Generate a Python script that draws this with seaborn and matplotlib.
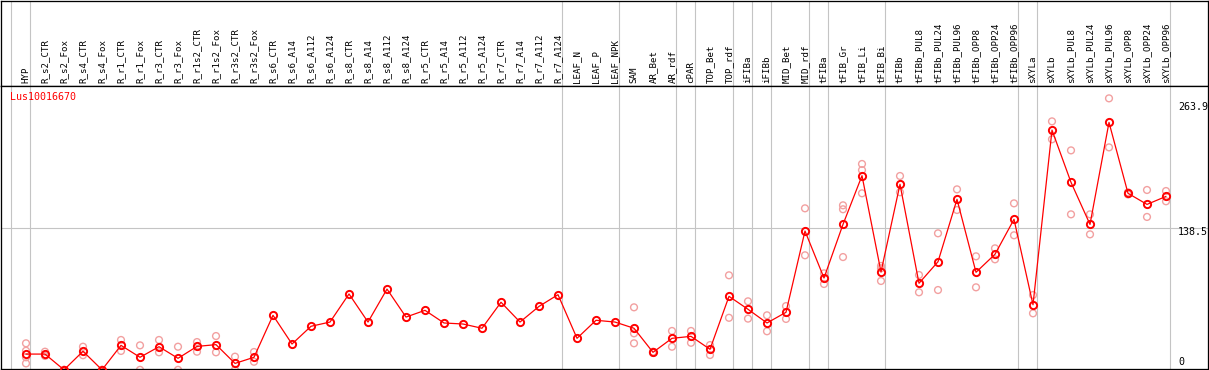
import matplotlib
matplotlib.use('Agg')
import matplotlib.pyplot as plt
import matplotlib.transforms as mtransforms
import seaborn as sns

# --- data ---
gene = 'Lus10016670'

samples = ['HYP', 'R_s2_CTR', 'R_s2_Fox', 'R_s4_CTR', 'R_s4_Fox', 'R_r1_CTR', 'R_r1_Fox',
           'R_r3_CTR', 'R_r3_Fox', 'R_r1s2_CTR', 'R_r1s2_Fox', 'R_r3s2_CTR', 'R_r3s2_Fox',
           'R_s6_CTR', 'R_s6_A14', 'R_s6_A112', 'R_s6_A124', 'R_s8_CTR', 'R_s8_A14',
           'R_s8_A112', 'R_s8_A124', 'R_r5_CTR', 'R_r5_A14', 'R_r5_A112', 'R_r5_A124',
           'R_r7_CTR', 'R_r7_A14', 'R_r7_A112', 'R_r7_A124', 'LEAF_N', 'LEAF_P', 'LEAF_NPK',
           'SAM', 'AR_Bet', 'AR_rdf', 'cPAR', 'TOP_Bet', 'TOP_rdf', 'iFIBa', 'iFIBb',
           'MID_Bet', 'MID_rdf', 'tFIBa', 'tFIB_Gr', 'tFIB_Li', 'tFIB_Bi', 'tFIBb',
           'tFIBb_PUL8', 'tFIBb_PUL24', 'tFIBb_PUL96', 'tFIBb_OPP8', 'tFIBb_OPP24',
           'tFIBb_OPP96', 'sXYLa', 'sXYLb', 'sXYLb_PUL8', 'sXYLb_PUL24', 'sXYLb_PUL96',
           'sXYLb_OPP8', 'sXYLb_OPP24', 'sXYLb_OPP96']

means = [17.2, 17.2, 2.0, 19.9, 2.0, 25.6, 14.1, 24.3, 13.1, 24.6, 26.3, 8.2, 14.1,
         54.6, 26.9, 44.0, 48.1, 75.2, 48.1, 79.9, 52.9, 59.4, 47.2, 46.2, 42.1,
         67.2, 48.1, 63.2, 74.5, 32.4, 49.8, 48.1,
         42.1, 18.9, 32.4, 34.3, 21.8, 72.9, 60.4, 47.2, 57.5, 135.9,
         90.6, 142.3, 189.3, 96.4, 181.0, 85.5, 106.3, 166.5, 96.1, 113.5, 147.2,
         64.8, 233.3, 182.9, 142.3, 240.7, 172.3, 161.6, 169.3]

replicates = [
    [27.6, 20.4, 14.1, 8.2], [19.5, 15.4], [2.0, 2.0], [24.3, 16.1], [2.0, 2.0],
    [30.8, 20.2], [25.6, 2.0], [30.8, 18.9], [24.3, 2.0], [28.8, 19.5], [34.6, 18.9],
    [14.7, 2.0], [19.2, 9.8],
    [], [], [], [], [], [], [], [], [], [], [], [], [], [], [], [], [], [], [],
    [62.3, 37.2, 27.6], [19.5, 18.3], [39.5, 24.3], [39.5, 28.1], [25.9, 16.3],
    [93.2, 52.2], [68.1, 51.4], [54.6, 39.2], [63.5, 51.1], [157.8, 112.5],
    [95.1, 84.8], [160.7, 156.9, 110.8], [200.6, 194.7, 172.3], [102.2, 100.0, 87.7],
    [189.0, 173.3], [93.5, 76.8], [133.7, 79.0], [176.1, 156.2], [111.5, 81.6],
    [119.2, 108.6], [162.6, 131.8], [74.2, 56.5], [241.7, 224.4], [213.7, 152.0],
    [152.0, 132.7], [263.9, 216.6], [173.2, 171.2], [175.5, 149.5], [174.5, 164.6],
]

# last sample of each group (a separator is drawn right after it)
group_ends = ['HYP', 'R_r7_A124', 'LEAF_NPK', 'AR_rdf', 'cPAR', 'TOP_rdf', 'iFIBa',
              'iFIBb', 'MID_rdf', 'tFIBa', 'tFIB_Bi', 'tFIBb_OPP96', 'sXYLa', 'sXYLb_OPP96']

ytick_values = [263.9, 138.5, 0]
ytick_labels = ['263.9', '138.5', '0']

# --- style ---
sns.set_style('white')
plt.rcParams['font.family'] = ['DejaVu Sans Mono', 'DejaVu Sans']

W, H = 1209, 370
grid_color = '#c4c4c4'
line_red = '#ff0000'
rep_red = '#f2a0a0'
px = 0.72  # one pixel in points

fig = plt.figure(figsize=(W / 100, H / 100), dpi=100)
ax_head = fig.add_axes([1 / W, 284.5 / H, 1207 / W, 85 / H])
ax = fig.add_axes([1 / W, 1 / H, 1207 / W, 283.5 / H], sharex=ax_head)

positions = list(range(len(samples)))
rep_x = [i for i, r in enumerate(replicates) for _ in r]
rep_y = [v for r in replicates for v in r]

# replicate values
sns.scatterplot(x=rep_x, y=rep_y, ax=ax, marker='o', s=24, facecolors='none',
                edgecolors=rep_red, linewidths=1.0, zorder=2)
# mean values
sns.lineplot(x=positions, y=means, ax=ax, color=line_red, lw=0.9, marker='o', ms=5.2,
             mfc='none', mec=line_red, mew=1.4, zorder=3)

# group separators through header and plot
sep_pos = [-1] + [samples.index(n) for n in group_ends]
for p in sep_pos:
    for a in (ax, ax_head):
        a.axvline(p + 0.21, color=grid_color, lw=px * 1.1, zorder=0)
ax.axhline(138.5, color=grid_color, lw=px * 1.1, zorder=0)

ax.set_xlim(-25 / 19, 1182 / 19)
ax.set_ylim(2.8, 276.3)
ax_head.set_ylim(0, 1)
for a in (ax, ax_head):
    a.set_xticks([])
    a.set_yticks([])
    a.set_xlabel('')
    a.set_ylabel('')
    for s in a.spines.values():
        s.set_color('black')
        s.set_linewidth(px * 1.3)

# sample labels, rotated, sitting on the header's bottom line
trans = mtransforms.blended_transform_factory(ax_head.transData, ax_head.transAxes)
for i, name in enumerate(samples):
    ax_head.text(i, 0.03, name, transform=trans, rotation=90, ha='center', va='bottom',
                 fontsize=6.6, color='black')

ax.text(9 / 1207, 0.959, gene, transform=ax.transAxes, color=line_red, fontsize=7.2,
        ha='left', va='center')

ytick_offsets = [-8.7, -3.7, 9.9]
for val, lab, off in zip(ytick_values, ytick_labels, ytick_offsets):
    ax.annotate(lab, xy=(0.9752, val), xycoords=('axes fraction', 'data'),
                xytext=(0, off), textcoords='offset pixels', ha='left', va='center',
                fontsize=7.2, color='black', annotation_clip=False)

fig.savefig('out.png', dpi=100)
